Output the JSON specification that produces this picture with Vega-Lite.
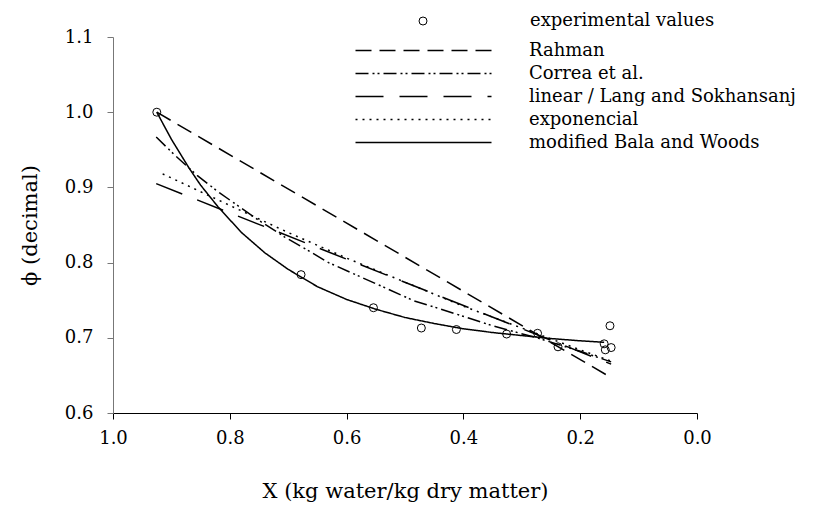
{
  "$schema": "https://vega.github.io/schema/vega-lite/v6.json",
  "width": 584,
  "height": 376,
  "autosize": {"type": "none"},
  "padding": {"left": 113, "top": 37, "right": 129, "bottom": 95},
  "background": "white",
  "config": {
    "view": {"stroke": null},
    "font": "DejaVu Serif",
    "axis": {"grid": false, "labelFont": "DejaVu Serif", "titleFont": "DejaVu Serif", "labelFontSize": 18, "titleFontSize": 21, "titleFontWeight": "normal", "labelColor": "black", "titleColor": "black", "tickSize": 6},
    "legend": {"labelFont": "DejaVu Serif", "labelFontSize": 18, "labelColor": "black", "labelLimit": 500}
  },
  "datasets": {
    "curves": [
      {"model": "Rahman", "X": 0.925, "phi": 1.0},
      {"model": "Rahman", "X": 0.147, "phi": 0.647},
      {"model": "Correa et al.", "X": 0.926, "phi": 0.967},
      {"model": "Correa et al.", "X": 0.893, "phi": 0.942},
      {"model": "Correa et al.", "X": 0.856, "phi": 0.916},
      {"model": "Correa et al.", "X": 0.818, "phi": 0.893},
      {"model": "Correa et al.", "X": 0.75, "phi": 0.856},
      {"model": "Correa et al.", "X": 0.706, "phi": 0.834},
      {"model": "Correa et al.", "X": 0.67, "phi": 0.818},
      {"model": "Correa et al.", "X": 0.631, "phi": 0.8},
      {"model": "Correa et al.", "X": 0.55, "phi": 0.772},
      {"model": "Correa et al.", "X": 0.484, "phi": 0.749},
      {"model": "Correa et al.", "X": 0.442, "phi": 0.739},
      {"model": "Correa et al.", "X": 0.406, "phi": 0.73},
      {"model": "Correa et al.", "X": 0.35, "phi": 0.716},
      {"model": "Correa et al.", "X": 0.27, "phi": 0.699},
      {"model": "Correa et al.", "X": 0.2, "phi": 0.682},
      {"model": "Correa et al.", "X": 0.147, "phi": 0.668},
      {"model": "linear / Lang and Sokhansanj", "X": 0.926, "phi": 0.905},
      {"model": "linear / Lang and Sokhansanj", "X": 0.147, "phi": 0.665},
      {"model": "exponencial", "X": 0.915, "phi": 0.918},
      {"model": "exponencial", "X": 0.8, "phi": 0.876},
      {"model": "exponencial", "X": 0.7, "phi": 0.84},
      {"model": "exponencial", "X": 0.6, "phi": 0.806},
      {"model": "exponencial", "X": 0.5, "phi": 0.774},
      {"model": "exponencial", "X": 0.4, "phi": 0.742},
      {"model": "exponencial", "X": 0.3, "phi": 0.713},
      {"model": "exponencial", "X": 0.2, "phi": 0.684},
      {"model": "exponencial", "X": 0.147, "phi": 0.669},
      {"model": "modified Bala and Woods", "X": 0.925, "phi": 1.0},
      {"model": "modified Bala and Woods", "X": 0.9, "phi": 0.964},
      {"model": "modified Bala and Woods", "X": 0.87, "phi": 0.926},
      {"model": "modified Bala and Woods", "X": 0.85, "phi": 0.903},
      {"model": "modified Bala and Woods", "X": 0.82, "phi": 0.874},
      {"model": "modified Bala and Woods", "X": 0.78, "phi": 0.84},
      {"model": "modified Bala and Woods", "X": 0.74, "phi": 0.813},
      {"model": "modified Bala and Woods", "X": 0.7, "phi": 0.791},
      {"model": "modified Bala and Woods", "X": 0.65, "phi": 0.768},
      {"model": "modified Bala and Woods", "X": 0.6, "phi": 0.751},
      {"model": "modified Bala and Woods", "X": 0.55, "phi": 0.738},
      {"model": "modified Bala and Woods", "X": 0.5, "phi": 0.727},
      {"model": "modified Bala and Woods", "X": 0.45, "phi": 0.719},
      {"model": "modified Bala and Woods", "X": 0.4, "phi": 0.712},
      {"model": "modified Bala and Woods", "X": 0.35, "phi": 0.707},
      {"model": "modified Bala and Woods", "X": 0.3, "phi": 0.703},
      {"model": "modified Bala and Woods", "X": 0.25, "phi": 0.699},
      {"model": "modified Bala and Woods", "X": 0.2, "phi": 0.696},
      {"model": "modified Bala and Woods", "X": 0.159, "phi": 0.694}
    ],
    "points": [
      {"series": "experimental values", "X": 0.925, "phi": 1.0},
      {"series": "experimental values", "X": 0.678, "phi": 0.784},
      {"series": "experimental values", "X": 0.554, "phi": 0.74},
      {"series": "experimental values", "X": 0.472, "phi": 0.713},
      {"series": "experimental values", "X": 0.412, "phi": 0.711},
      {"series": "experimental values", "X": 0.326, "phi": 0.705},
      {"series": "experimental values", "X": 0.273, "phi": 0.706},
      {"series": "experimental values", "X": 0.238, "phi": 0.688},
      {"series": "experimental values", "X": 0.159, "phi": 0.692},
      {"series": "experimental values", "X": 0.149, "phi": 0.716},
      {"series": "experimental values", "X": 0.157, "phi": 0.684},
      {"series": "experimental values", "X": 0.147, "phi": 0.687}
    ]
  },
  "encoding": {
    "x": {"field": "X", "type": "quantitative",
      "scale": {"domain": [0, 1], "reverse": true, "nice": false},
      "axis": {"values": [0, 0.2, 0.4, 0.6, 0.8, 1.0], "format": ".1f", "title": "X (kg water/kg dry matter)",
        "domainColor": "black", "tickColor": "black", "labelPadding": 10, "titlePadding": 33, "labelFlush": false}},
    "y": {"field": "phi", "type": "quantitative",
      "scale": {"domain": [0.6, 1.1], "nice": false, "zero": false},
      "axis": {"values": [0.6, 0.7, 0.8, 0.9, 1.0, 1.1], "format": ".1f", "title": "ϕ (decimal)",
        "domainColor": "#777777", "tickColor": "#777777", "labelPadding": 14, "titlePadding": 24, "labelFlush": false}}
  },
  "layer": [
    {
      "data": {"name": "curves"},
      "mark": {"type": "line", "strokeWidth": 1.5, "color": "black"},
      "encoding": {
        "strokeDash": {"field": "model", "type": "nominal",
          "scale": {"domain": ["Rahman", "Correa et al.", "linear / Lang and Sokhansanj", "exponencial", "modified Bala and Woods"],
            "range": [[16, 8], [13, 4, 2, 3, 2, 4], [28, 16], [2, 5], [1, 0]]},
          "legend": {"title": null, "orient": "none", "legendX": 301, "legendY": 4, "symbolType": "M -8 0 L 8 0", "symbolSize": 289,
            "symbolStrokeColor": "black", "symbolStrokeWidth": 1.5, "labelOffset": 96, "rowPadding": 4}}
      }
    },
    {
      "data": {"name": "points"},
      "mark": {"type": "point", "filled": false, "color": "black", "size": 64, "strokeWidth": 1, "opacity": 1},
      "encoding": {
        "shape": {"field": "series", "type": "nominal", "scale": {"range": ["circle"]},
          "legend": {"title": null, "orient": "none", "legendX": 301, "legendY": -25, "symbolSize": 64,
            "symbolStrokeColor": "black", "symbolFillColor": "white", "symbolStrokeWidth": 1, "labelOffset": 98}}
      }
    }
  ]
}
